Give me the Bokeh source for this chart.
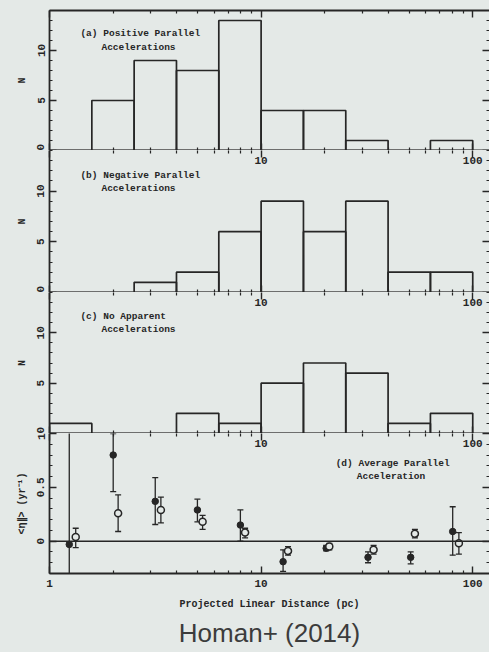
from bokeh.plotting import figure
from bokeh.layouts import column
from bokeh.models import FixedTicker, LogAxis, LinearAxis, Range1d, Span, Label, Title
from bokeh.core.properties import value
from bokeh.embed import file_html
from bokeh.resources import INLINE

# ---------------- data ----------------
bin_edges = [1.0, 1.585, 2.512, 3.981, 6.310, 10.0, 15.85, 25.12, 39.81, 63.10, 100.0]
counts_pos = [0, 5, 9, 8, 13, 4, 4, 1, 0, 1]
counts_neg = [0, 0, 1, 2, 6, 9, 6, 9, 2, 2]
counts_none = [1, 0, 0, 2, 1, 5, 7, 6, 1, 2]

filled_x = [1.24, 2.0, 3.16, 5.0, 7.98, 12.7, 20.3, 32.0, 50.9, 80.4]
filled_y = [-0.03, 0.80, 0.37, 0.29, 0.15, -0.19, -0.065, -0.15, -0.15, 0.09]
filled_lo = [-2.0, 0.46, 0.155, 0.18, 0.0, -0.28, -0.09, -0.20, -0.21, -0.13]
filled_hi = [2.0, 1.0, 0.59, 0.39, 0.29, -0.08, -0.04, -0.10, -0.10, 0.32]

open_x = [1.33, 2.11, 3.36, 5.29, 8.4, 13.4, 21.0, 34.0, 53.3, 86.0]
open_y = [0.04, 0.26, 0.29, 0.18, 0.08, -0.09, -0.05, -0.08, 0.07, -0.02]
open_lo = [-0.06, 0.09, 0.17, 0.11, 0.03, -0.13, -0.08, -0.12, 0.03, -0.12]
open_hi = [0.12, 0.43, 0.41, 0.24, 0.12, -0.05, -0.02, -0.04, 0.11, 0.08]

x_tick_vals = [1, 10, 100]
x_tick_labels = ["1", "10", "100"]
x_minor_vals = [2, 3, 4, 5, 6, 7, 8, 9, 20, 30, 40, 50, 60, 70, 80, 90]
n_tick_vals = [0, 5, 10]
n_tick_labels = ["0", "5", "10"]
n_minor_vals = list(range(0, 15))
acc_tick_vals = [0, 0.5, 1]
acc_tick_labels = ["0", "0.5", "1"]
acc_minor_vals = [-0.3, -0.2, -0.1, 0.1, 0.2, 0.3, 0.4, 0.6, 0.7, 0.8, 0.9]

panel_texts = [
    ("(a) Positive Parallel", "Accelerations"),
    ("(b) Negative Parallel", "Accelerations"),
    ("(c) No Apparent", "Accelerations"),
    ("(d) Average Parallel", "Acceleration"),
]
x_title = "Projected Linear Distance (pc)"
y_title_counts = "N"
y_title_acc = "<η∥> (yr⁻¹)"
source_title = "Homan+ (2014)"

# ---------------- style ----------------
BG = "#e4e9e7"
INK = "#262626"
FONT = "Liberation Mono"
XR = (1, 120)


def style_axis(ax, ticks, minor, labels, show, line=True):
    ax.ticker = FixedTicker(ticks=ticks, minor_ticks=minor)
    ax.major_tick_in = 7
    ax.major_tick_out = 0
    ax.minor_tick_in = 3
    ax.minor_tick_out = 0
    ax.major_tick_line_color = INK
    ax.minor_tick_line_color = INK
    ax.major_tick_line_width = 1.4
    ax.minor_tick_line_width = 1.2
    ax.axis_line_color = INK if line else None
    ax.axis_line_width = 1.8
    if show:
        ax.major_label_overrides = dict(zip(ticks, labels))
        ax.major_label_text_font = FONT
        ax.major_label_text_font_style = "bold"
        ax.major_label_text_font_size = "11px"
        ax.major_label_text_color = INK
        ax.major_label_standoff = 6
    else:
        ax.major_label_overrides = {t: "" for t in ticks}
        ax.major_label_text_font_size = "0px"
        ax.major_label_standoff = 0


def make_panel(h, y0, y1, btop, bbot, yticks, yminor, ylabels, ytitle, show_x, top_line):
    p = figure(width=489, height=h, x_axis_type="log", x_range=Range1d(*XR),
               y_range=Range1d(y0, y1), output_backend="svg", toolbar_location=None,
               min_border=0, min_border_left=49, min_border_right=0,
               min_border_top=btop, min_border_bottom=bbot)
    p.background_fill_color = BG
    p.border_fill_color = BG
    p.outline_line_color = None
    p.grid.visible = False
    bottom_axis = p.below[0]
    left_axis = p.left[0]
    style_axis(bottom_axis, x_tick_vals, x_minor_vals, x_tick_labels, show_x)
    style_axis(left_axis, yticks, yminor, ylabels, True)
    left_axis.major_label_standoff = 5
    left_axis.major_label_orientation = "vertical"
    left_axis.axis_label = ytitle
    left_axis.axis_label_text_font = FONT
    left_axis.axis_label_text_font_style = "bold"
    left_axis.axis_label_text_font_size = "10px"
    left_axis.axis_label_text_color = INK
    left_axis.axis_label_standoff = 7
    top = LogAxis()
    style_axis(top, x_tick_vals, x_minor_vals, x_tick_labels, False, line=top_line)
    p.add_layout(top, "above")
    right = LinearAxis()
    style_axis(right, yticks, yminor, ylabels, False, line=False)
    p.add_layout(right, "right")
    return p, bottom_axis


def add_hist(p, counts):
    p.quad(left=bin_edges[:-1], right=bin_edges[1:], bottom=[0] * len(counts), top=counts,
           fill_color=None, line_color=INK, line_width=1.7)


def add_text(p, lines, x1, x2, y1, y2):
    for t, x, y in ((lines[0], x1, y1), (lines[1], x2, y2)):
        p.add_layout(Label(x=x, y=y, text=t, text_align="left", text_baseline="middle",
                           text_font=FONT, text_font_style="bold", text_font_size="9.5px",
                           text_color=INK))


def add_spill_labels(p, ypos):
    p.text(x=x_tick_vals[1:], y=[ypos] * (len(x_tick_vals) - 1), text=x_tick_labels[1:],
           text_font=value(FONT), text_font_style="bold", text_font_size="11px",
           text_color=INK, text_align="center", text_baseline="middle")


pa, _ = make_panel(150, 0, 14, 10, 0, n_tick_vals, n_minor_vals, n_tick_labels, y_title_counts, False, True)
add_hist(pa, counts_pos)
add_text(pa, panel_texts[0], 1.40, 1.76, 11.7, 10.3)

pb, _ = make_panel(142, 0, 14, 0, 0, n_tick_vals, n_minor_vals, n_tick_labels, y_title_counts, False, False)
add_hist(pb, counts_neg)
add_text(pb, panel_texts[1], 1.40, 1.76, 11.5, 10.25)
add_spill_labels(pb, 13.0)

pc, _ = make_panel(141, 0, 14, 0, 0, n_tick_vals, n_minor_vals, n_tick_labels, y_title_counts, False, False)
add_hist(pc, counts_none)
add_text(pc, panel_texts[2], 1.40, 1.76, 11.6, 10.3)
add_spill_labels(pc, 13.0)

pd, pd_bottom = make_panel(219, -0.3, 1.0, 0, 79, acc_tick_vals, acc_minor_vals, acc_tick_labels,
                           y_title_acc, True, False)
pd_bottom.axis_label = x_title
pd_bottom.axis_label_text_font = FONT
pd_bottom.axis_label_text_font_style = "bold"
pd_bottom.axis_label_text_font_size = "10px"
pd_bottom.axis_label_text_color = INK
pd_bottom.axis_label_standoff = 9
pd.add_layout(Span(location=0, dimension="width", line_color=INK, line_width=1.6))
add_spill_labels(pd, 0.907)
add_text(pd, panel_texts[3], 22.5, 28.3, 0.724, 0.603)

for xs, ys, lo, hi, filled in ((filled_x, filled_y, filled_lo, filled_hi, True),
                               (open_x, open_y, open_lo, open_hi, False)):
    pd.segment(x0=xs, y0=lo, x1=xs, y1=hi, line_color=INK, line_width=1.3)
    pd.scatter(x=xs, y=lo, marker="dash", size=6, line_color=INK, line_width=1.3)
    pd.scatter(x=xs, y=hi, marker="dash", size=6, line_color=INK, line_width=1.3)
    if filled:
        pd.scatter(x=xs, y=ys, marker="circle", size=6.5, fill_color=INK, line_color=INK)
    else:
        pd.scatter(x=xs, y=ys, marker="circle", size=7, fill_color=BG, line_color=INK, line_width=1.5)

pd.add_layout(Title(text=source_title, align="center", text_font="Liberation Sans",
                    text_font_style="normal", text_font_size="26px", text_color="#3c3c3c",
                    standoff=7), "below")

layout = column(pa, pb, pc, pd, spacing=0)
layout.styles = {"background-color": BG}

open("out.html", "w").write(file_html(layout, INLINE))
